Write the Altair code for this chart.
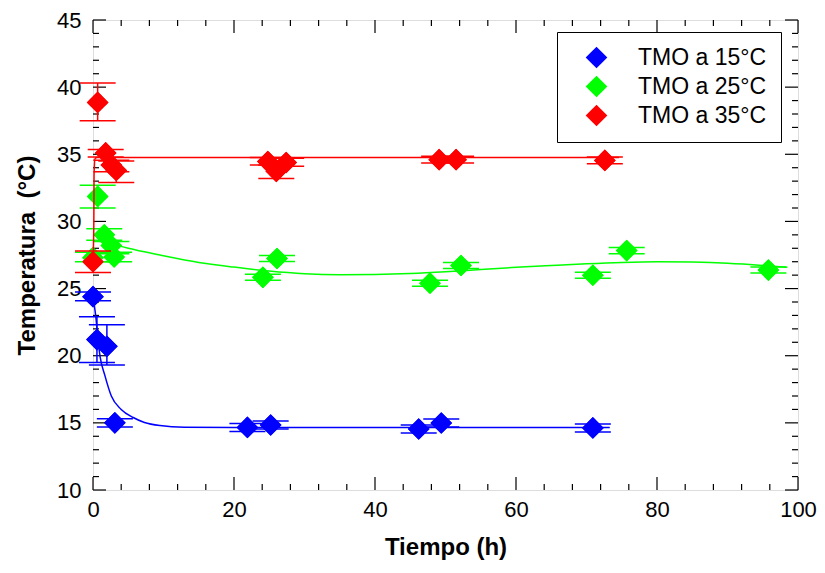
import altair as alt
import pandas as pd

SERIES = ["TMO a 15°C", "TMO a 25°C", "TMO a 35°C"]
COLORS = ["#0000ff", "#00ff00", "#ff0000"]

# ---- measured points (time h, temperature °C, error bar low/high) ----
t15 = [0.0, 0.56, 1.97, 3.1, 21.9, 25.2, 46.2, 49.4, 70.9]
y15 = [24.4, 21.2, 20.7, 15.0, 14.66, 14.84, 14.54, 14.99, 14.62]
lo15 = [24.1, 19.5, 19.3, 14.7, 14.36, 14.54, 14.24, 14.69, 14.32]
hi15 = [24.75, 22.9, 22.3, 15.3, 14.96, 15.14, 14.84, 15.29, 14.92]

t25 = [0.0, 0.66, 1.6, 2.6, 3.0, 24.1, 26.1, 47.8, 52.2, 70.9, 75.7, 95.8]
y25 = [27.3, 31.86, 29.0, 28.2, 27.35, 25.84, 27.24, 25.4, 26.72, 25.99, 27.83, 26.38]
lo25 = [27.0, 31.0, 28.6, 27.6, 27.0, 25.62, 27.02, 25.18, 26.5, 25.77, 27.6, 26.16]
hi25 = [27.7, 32.7, 29.45, 28.5, 27.7, 26.06, 27.46, 25.62, 26.94, 26.21, 28.06, 26.6]

t35 = [0.0, 0.66, 1.8, 2.6, 3.3, 24.8, 26.0, 27.4, 49.1, 51.5, 72.6]
y35 = [27.0, 38.86, 35.1, 34.2, 33.8, 34.46, 33.73, 34.39, 34.6, 34.6, 34.54]
lo35 = [26.2, 37.5, 34.8, 33.7, 32.9, 34.2, 33.2, 34.1, 34.35, 34.35, 34.3]
hi35 = [27.8, 40.3, 35.35, 34.55, 34.5, 34.76, 34.2, 34.7, 34.85, 34.85, 34.8]

# ---- fitted curves ----
ct15 = [0.0, 0.28, 0.4, 0.66, 1.0, 1.7, 2.6, 4.0, 5.7, 7.3, 9.5, 13.0, 20.0, 73.3]
cy15 = [24.4, 23.4, 22.9, 21.4, 19.95, 18.5, 17.0, 16.0, 15.4, 15.03, 14.8, 14.68, 14.66, 14.66]

ct25 = [1.2, 2.0, 5.0, 9.5, 15, 20, 25, 30, 35, 40, 45, 50, 55, 60, 65, 70, 75, 80, 85, 90, 95, 98.5]
cy25 = [28.55, 28.42, 28.0, 27.5, 26.95, 26.6, 26.3, 26.1, 26.03, 26.05, 26.12, 26.25, 26.42,
        26.58, 26.72, 26.85, 26.95, 27.0, 26.97, 26.88, 26.72, 26.58]

ct35 = [0.0, 0.12, 0.15, 0.3, 0.6, 74.6]
cy35 = [27.0, 30.0, 33.5, 34.7, 34.76, 34.76]

# ---- axis ticks ----
x_major = [0, 20, 40, 60, 80, 100]
x_minor = [v for v in range(4, 100, 4) if v % 20 != 0]
y_major = [10, 15, 20, 25, 30, 35, 40, 45]
y_minor = [v for v in range(11, 45) if v % 5 != 0]

W, H = 705, 470
FONT = "Liberation Sans"

pts = pd.concat([
    pd.DataFrame({"serie": SERIES[0], "t": t15, "temp": y15, "lo": lo15, "hi": hi15}),
    pd.DataFrame({"serie": SERIES[1], "t": t25, "temp": y25, "lo": lo25, "hi": hi25}),
    pd.DataFrame({"serie": SERIES[2], "t": t35, "temp": y35, "lo": lo35, "hi": hi35}),
], ignore_index=True)
curves = pd.concat([
    pd.DataFrame({"serie": SERIES[0], "t": ct15, "temp": cy15}),
    pd.DataFrame({"serie": SERIES[1], "t": ct25, "temp": cy25}),
    pd.DataFrame({"serie": SERIES[2], "t": ct35, "temp": cy35}),
], ignore_index=True)

xs = alt.Scale(domain=[0, 100], nice=False, zero=False)
ys = alt.Scale(domain=[10, 45], nice=False, zero=False)

x_axis = alt.Axis(values=x_major, ticks=False, domain=False, grid=False, labelFlush=False,
                  labelFontSize=22, labelFont=FONT, labelColor="black", labelPadding=9,
                  title="Tiempo (h)", titleFont=FONT, titleFontSize=24, titleFontWeight="bold",
                  titleColor="black", titlePadding=15)
y_axis = alt.Axis(values=y_major, ticks=False, domain=False, grid=False, labelFlush=False,
                  labelFontSize=22, labelFont=FONT, labelColor="black", labelPadding=12,
                  title="Temperatura\u00a0\u00a0(°C)", titleFont=FONT, titleFontSize=24,
                  titleFontWeight="bold", titleColor="black", titlePadding=17)


def X(field):
    return alt.X(field, type="quantitative", scale=xs, axis=x_axis, title="Tiempo (h)")


def Y(field):
    return alt.Y(field, type="quantitative", scale=ys, axis=y_axis,
                 title="Temperatura\u00a0\u00a0(°C)")


legend_layer = alt.Chart(pts).mark_point(shape="diamond", filled=True, size=470, opacity=1).encode(
    x=X("t"),
    y=Y("temp"),
    color=alt.Color("serie:N", scale=alt.Scale(domain=SERIES, range=COLORS),
                    legend=alt.Legend(title=None, orient="none", legendX=464, legendY=12,
                                      strokeColor="black", padding=14,
                                      fillColor="white", symbolType="diamond", symbolSize=470,
                                      symbolStrokeWidth=0, symbolOffset=14, labelOffset=30,
                                      labelFontSize=23, labelFont=FONT, labelColor="black",
                                      rowPadding=5)),
)


def tick_layer(values, axis, side, length):
    df = pd.DataFrame({"v": values})
    c = alt.Chart(df).mark_rule(color="black", strokeWidth=1.2)
    if axis == "x":
        y0 = H if side == "bottom" else 0
        y1 = H - length if side == "bottom" else length
        return c.encode(x=X("v"), y=alt.value(y0), y2=alt.value(y1))
    x0 = 0 if side == "left" else W
    x1 = length if side == "left" else W - length
    return c.encode(y=Y("v"), x=alt.value(x0), x2=alt.value(x1))


ticks = [
    tick_layer(x_major, "x", "bottom", 13), tick_layer(x_minor, "x", "bottom", 6),
    tick_layer(x_major, "x", "top", 13), tick_layer(x_minor, "x", "top", 6),
    tick_layer(y_major, "y", "left", 13), tick_layer(y_minor, "y", "left", 6),
    tick_layer(y_major, "y", "right", 13), tick_layer(y_minor, "y", "right", 6),
]

series_layers = []
for name, col in zip(SERIES, COLORS):
    p = alt.Chart(pts).transform_filter(alt.datum.serie == name)
    c = alt.Chart(curves).transform_filter(alt.datum.serie == name)
    stems = p.mark_rule(color=col, strokeWidth=1.5).encode(x=X("t"), y=Y("lo"), y2="hi:Q")
    cap_lo = p.mark_tick(color=col, orient="horizontal", size=36, thickness=1.5, opacity=1).encode(
        x=X("t"), y=Y("lo"))
    cap_hi = p.mark_tick(color=col, orient="horizontal", size=36, thickness=1.5, opacity=1).encode(
        x=X("t"), y=Y("hi"))
    line = c.mark_line(color=col, strokeWidth=1.5, interpolate="monotone").encode(
        x=X("t"), y=Y("temp"))
    dots = p.mark_point(shape="diamond", filled=True, size=470, opacity=1, color=col).encode(
        x=X("t"), y=Y("temp"))
    series_layers += [stems, cap_lo, cap_hi, line, dots]

chart = alt.layer(legend_layer, *ticks, *series_layers).properties(
    width=W, height=H,
    autosize=alt.AutoSizeParams(type="none"),
    padding={"left": 85, "top": 12, "right": 19, "bottom": 75},
).configure_view(stroke="black", strokeWidth=1.5).configure(background="white")

chart.save("out.html", embed_options={"renderer": "svg", "actions": False})
